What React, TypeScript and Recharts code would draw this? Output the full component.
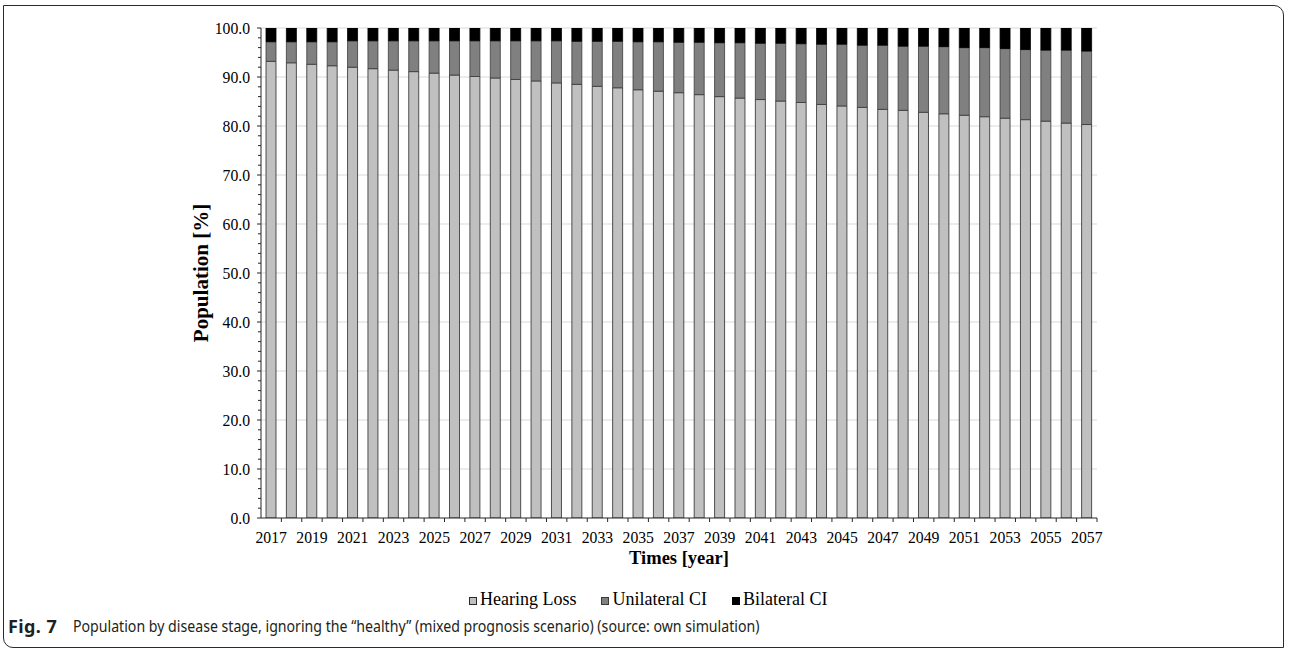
import React from 'react';
import { BarChart, Bar, XAxis, YAxis, CartesianGrid } from 'recharts';

const years = [
  '2017', '2018', '2019', '2020', '2021', '2022', '2023', '2024', '2025', '2026',
  '2027', '2028', '2029', '2030', '2031', '2032', '2033', '2034', '2035', '2036',
  '2037', '2038', '2039', '2040', '2041', '2042', '2043', '2044', '2045', '2046',
  '2047', '2048', '2049', '2050', '2051', '2052', '2053', '2054', '2055', '2056', '2057',
];

const hearingLoss = [
  93.2, 92.9, 92.6, 92.3, 92.0, 91.7, 91.4, 91.1, 90.8, 90.4,
  90.1, 89.8, 89.5, 89.2, 88.8, 88.5, 88.1, 87.8, 87.4, 87.1,
  86.8, 86.4, 86.0, 85.7, 85.4, 85.1, 84.8, 84.4, 84.1, 83.8,
  83.4, 83.2, 82.8, 82.5, 82.2, 81.9, 81.6, 81.3, 81.0, 80.6, 80.3,
];

const unilateralCI = [
  4.0, 4.3, 4.6, 4.9, 5.4, 5.7, 6.0, 6.3, 6.6, 7.0,
  7.3, 7.6, 7.9, 8.2, 8.6, 8.8, 9.2, 9.5, 9.8, 10.1,
  10.3, 10.7, 11.0, 11.3, 11.5, 11.8, 12.0, 12.3, 12.6, 12.7,
  13.1, 13.1, 13.5, 13.7, 13.8, 14.1, 14.2, 14.3, 14.5, 14.9, 15.0,
];

const bilateralCI = [
  2.8, 2.8, 2.8, 2.8, 2.6, 2.6, 2.6, 2.6, 2.6, 2.6,
  2.6, 2.6, 2.6, 2.6, 2.6, 2.7, 2.7, 2.7, 2.8, 2.8,
  2.9, 2.9, 3.0, 3.0, 3.1, 3.1, 3.2, 3.3, 3.3, 3.5,
  3.5, 3.7, 3.7, 3.8, 4.0, 4.0, 4.2, 4.4, 4.5, 4.5, 4.7,
];

const yTicks = [
  0, 2, 4, 6, 8, 10, 12, 14, 16, 18, 20, 22, 24, 26, 28, 30, 32, 34, 36, 38, 40,
  42, 44, 46, 48, 50, 52, 54, 56, 58, 60, 62, 64, 66, 68, 70, 72, 74, 76, 78, 80,
  82, 84, 86, 88, 90, 92, 94, 96, 98, 100,
];
const gridValues = [10, 20, 30, 40, 50, 60, 70, 80, 90, 100];

const seriesNames = ['Hearing Loss', 'Unilateral CI', 'Bilateral CI'];
const seriesKeys = ['hearing', 'unilateral', 'bilateral'];
const seriesFill = ['#c0c0c0', '#808080', '#000000'];
const seriesStroke = ['#2a2a2a', '#3a3a3a', '#000000'];

const xTitle = 'Times [year]';
const yTitle = 'Population [%]';
const captionBold = 'Fig. 7';
const captionText =
  'Population by disease stage, ignoring the \u201Chealthy\u201D (mixed prognosis scenario) (source: own simulation)';

const data = years.map((year, i) => ({
  year,
  hearing: hearingLoss[i],
  unilateral: unilateralCI[i],
  bilateral: bilateralCI[i],
}));

const CHART_W = 1290;
const CHART_H = 560;
const PLOT_LEFT = 261;
const PLOT_RIGHT = 1097;
const PLOT_TOP = 28;
const PLOT_BOTTOM = 518;
const AXIS_COLOR = '#262626';
const SERIF = '"Liberation Serif", "Times New Roman", Times, serif';
const SANS = '"Noto Sans", "Open Sans", sans-serif';
const TICK_FONT = 15.7;

const XTick = (props: any) => {
  const { x, y, payload, index } = props;
  const step = (PLOT_RIGHT - PLOT_LEFT) / years.length;
  const i = typeof index === 'number' ? index : years.indexOf(payload.value);
  return (
    <g>
      {i > 0 && (
        <line x1={x - step / 2} x2={x - step / 2} y1={y} y2={y + 4} stroke={AXIS_COLOR} strokeWidth={1} />
      )}
      {i === years.length - 1 && (
        <line x1={x + step / 2} x2={x + step / 2} y1={y} y2={y + 4} stroke={AXIS_COLOR} strokeWidth={1} />
      )}
      {i % 2 === 0 && (
        <text x={x} y={y + 25} textAnchor="middle" fontFamily={SERIF} fontSize={TICK_FONT} fill="#000">
          {payload.value}
        </text>
      )}
    </g>
  );
};

const YTick = (props: any) => {
  const { x, y, payload } = props;
  const v = Number(payload.value);
  const major = v % 10 === 0;
  return (
    <g>
      <line x1={x - (major ? 4 : 3)} x2={x} y1={y} y2={y} stroke={AXIS_COLOR} strokeWidth={1} />
      {major && (
        <text x={x - 11} y={y + 5.5} textAnchor="end" fontFamily={SERIF} fontSize={TICK_FONT} fill="#000">
          {v.toFixed(1)}
        </text>
      )}
    </g>
  );
};

export default function App() {
  return (
    <div style={{ position: 'absolute', left: 0, top: 0, width: 1290, height: 650, background: '#fff', overflow: 'hidden' }}>
      <div
        style={{
          position: 'absolute',
          left: 3,
          top: 5,
          width: 1281,
          height: 643,
          boxSizing: 'border-box',
          border: '1.3px solid #2b2b2b',
          borderRadius: '0 10px 0 10px',
        }}
      />
      <div style={{ position: 'absolute', left: 0, top: 0 }}>
        <BarChart
          width={CHART_W}
          height={CHART_H}
          data={data}
          barSize={10}
          margin={{ top: PLOT_TOP, right: CHART_W - PLOT_RIGHT, left: 0, bottom: 0 }}
        >
          <CartesianGrid vertical={false} horizontalValues={gridValues} stroke="#d9d9d9" strokeWidth={1} />
          <XAxis
            dataKey="year"
            height={CHART_H - PLOT_BOTTOM}
            interval={0}
            tickSize={0}
            tickMargin={0}
            tickLine={false}
            axisLine={{ stroke: AXIS_COLOR, strokeWidth: 1 }}
            tick={<XTick />}
          />
          <YAxis
            type="number"
            domain={[0, 100]}
            ticks={yTicks}
            interval={0}
            width={PLOT_LEFT}
            tickSize={0}
            tickMargin={0}
            tickLine={false}
            axisLine={{ stroke: AXIS_COLOR, strokeWidth: 1 }}
            tick={<YTick />}
            allowDataOverflow
          />
          {seriesKeys.map((k, i) => (
            <Bar
              key={k}
              dataKey={k}
              name={seriesNames[i]}
              stackId="s"
              fill={seriesFill[i]}
              stroke={seriesStroke[i]}
              strokeWidth={0.8}
              isAnimationActive={false}
            />
          ))}
        </BarChart>
      </div>
      <div
        style={{
          position: 'absolute',
          left: PLOT_LEFT,
          width: PLOT_RIGHT - PLOT_LEFT,
          top: 548,
          textAlign: 'center',
          fontFamily: SERIF,
          fontWeight: 'bold',
          fontSize: 18.5,
          lineHeight: '20px',
          color: '#000',
        }}
      >
        {xTitle}
      </div>
      <div
        style={{
          position: 'absolute',
          left: 201,
          top: (PLOT_TOP + PLOT_BOTTOM) / 2,
          transform: 'translate(-50%, -50%) rotate(-90deg)',
          whiteSpace: 'nowrap',
          fontFamily: SERIF,
          fontWeight: 'bold',
          fontSize: 21,
          lineHeight: '22px',
          color: '#000',
        }}
      >
        {yTitle}
      </div>
      <div
        style={{
          position: 'absolute',
          left: 469,
          top: 590,
          display: 'flex',
          alignItems: 'baseline',
          gap: 25,
          fontFamily: SERIF,
          fontSize: 18,
          lineHeight: '18px',
          color: '#000',
          whiteSpace: 'nowrap',
        }}
      >
        {seriesNames.map((n, i) => (
          <div key={n} style={{ display: 'flex', alignItems: 'baseline' }}>
            <span
              style={{
                display: 'inline-block',
                width: 8,
                height: 8,
                boxSizing: 'border-box',
                background: seriesFill[i],
                border: `1px solid ${seriesStroke[i]}`,
                marginRight: 3,
              }}
            />
            <span>{n}</span>
          </div>
        ))}
      </div>
      <div
        style={{
          position: 'absolute',
          left: 8,
          top: 614,
          fontFamily: SANS,
          fontSize: 18,
          lineHeight: '24px',
          fontWeight: 'bold',
          color: '#231f20',
          whiteSpace: 'nowrap',
          letterSpacing: 0.4,
        }}
      >
        {captionBold}
      </div>
      <div
        style={{
          position: 'absolute',
          left: 73,
          top: 616,
          fontFamily: SANS,
          fontSize: 15.5,
          lineHeight: '20px',
          color: '#231f20',
          whiteSpace: 'nowrap',
          transform: 'scaleX(0.912)',
          transformOrigin: 'left center',
        }}
      >
        {captionText}
      </div>
    </div>
  );
}
